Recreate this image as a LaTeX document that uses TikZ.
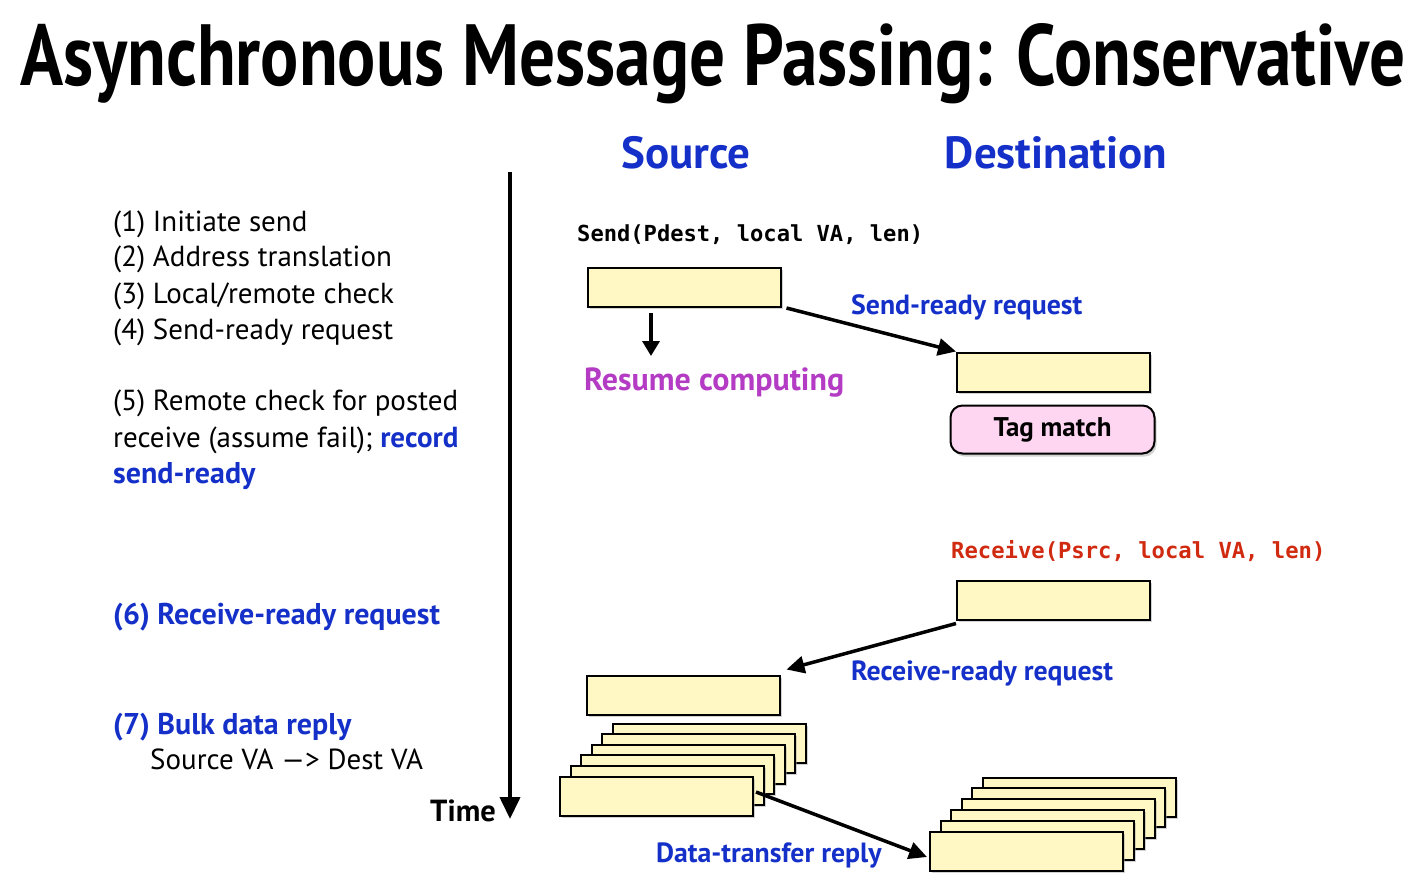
\documentclass[tikz,border=0pt]{standalone}
\usepackage{fontspec}
\usepackage{graphicx}
\setmainfont{PT Sans}
\setsansfont{PT Sans}
\setmonofont{DejaVu Sans Mono}
\usetikzlibrary{arrows.meta,shadows}
\definecolor{tblue}{HTML}{1430C8}
\definecolor{tmag}{HTML}{B43CC4}
\definecolor{tred}{HTML}{D02A10}
\definecolor{boxfill}{HTML}{FFF8C4}
\definecolor{tagfill}{HTML}{FFD6F2}
\tikzset{
  buf/.style={draw=black, line width=2pt, fill=boxfill, minimum width=193pt, minimum height=39pt, inner sep=0pt,
     drop shadow={shadow xshift=2pt, shadow yshift=-2pt, fill=black!35}},
  tagbox/.style={draw=black, line width=2pt, fill=tagfill, rounded corners=12pt, minimum width=204pt, minimum height=48pt, inner sep=0pt,
     drop shadow={shadow xshift=2pt, shadow yshift=-3pt, fill=black!35}, font=\fontsize{27}{32}\selectfont\bfseries},
  conn/.style={line width=3.5pt, -{Triangle[length=18pt, width=17pt]}},
  lefttxt/.style={anchor=base west, inner sep=0pt, font=\fontsize{29}{34}\selectfont},
  leftblue/.style={anchor=base west, inner sep=0pt, text=tblue, font=\fontsize{30}{34}\selectfont\bfseries},
  bluebold/.style={text=tblue, font=\fontsize{27.8}{32}\selectfont\bfseries, inner sep=0pt},
}
\begin{document}
\begin{tikzpicture}[x=1pt, y=-1pt]
\useasboundingbox (0,0) rectangle (1419,881);
% title
\node[anchor=base west, inner sep=0pt] (title) at (20,85) {\resizebox{1385pt}{62pt}{\fontsize{86}{90}\selectfont\bfseries Asynchronous Message Passing: Conservative}};
% column heads
\node[anchor=base, inner sep=0pt, text=tblue, font=\fontsize{45}{50}\selectfont\bfseries] (src) at (686,168) {Source};
\node[anchor=base, inner sep=0pt, text=tblue, font=\fontsize{45}{50}\selectfont\bfseries] (dst) at (1056,168) {Destination};
% timeline
\coordinate (tl0) at (510,172);
\coordinate (tl1) at (510,819);
\draw[line width=4pt, -{Triangle[length=22pt, width=20pt]}] (tl0) -- (tl1);
\node[anchor=base east, inner sep=0pt, font=\fontsize{30.5}{34}\selectfont\bfseries] (time) at (496,821) {Time};
% left list
\node[lefttxt] (s1) at (113,231) {(1) Initiate send};
\node[lefttxt] (s2) at (113,266) {(2) Address translation};
\node[lefttxt] (s3) at (113,303) {(3) Local/remote check};
\node[lefttxt] (s4) at (113,339) {(4) Send-ready request};
\node[lefttxt] (s5a) at (113,410) {(5) Remote check for posted};
\node[lefttxt] (s5b) at (113,447) {receive (assume fail); \textcolor{tblue}{\bfseries record}};
\node[leftblue] (s5c) at (113,483) {send-ready};
\node[leftblue] (s6) at (113,624) {(6) Receive-ready request};
\node[leftblue] (s7) at (113,734) {(7) Bulk data reply};
\node[lefttxt] (s7b) at (150,769) {Source VA —> Dest VA};
% send call
\node[anchor=base west, inner sep=0pt, font=\fontsize{22.1}{26}\selectfont\ttfamily\bfseries] (send) at (577,241) {Send(Pdest, local VA, len)};
\node[buf] (b1) at (684,287.5) {};
\coordinate (r0) at (651,313);
\coordinate (r1) at (651,356);
\draw[line width=3.5pt, -{Triangle[length=15pt, width=17pt]}] (r0) -- (r1);
\node[anchor=base west, inner sep=0pt, text=tmag, font=\fontsize{32}{36}\selectfont\bfseries] (resume) at (584,390) {Resume computing};
% destination side
\node[buf] (b2) at (1053.5,372) {};
\draw[conn] ([xshift=5pt]b1.south east) -- (b2.north west);
\node[bluebold, anchor=base west] (sr) at (851,314) {Send-ready request};
\node[tagbox] (tag) at (1052.5,429.5) {Tag match};
\node[anchor=base west, inner sep=0pt, text=tred, font=\fontsize{22.2}{26}\selectfont\ttfamily\bfseries] (recv) at (951,558) {Receive(Psrc, local VA, len)};
\node[buf] (b3) at (1053.5,600) {};
\node[buf] (b4) at (683,695) {};
\draw[conn] ([yshift=-3pt]b3.south west) -- ([xshift=6pt,yshift=5pt]b4.north east);
\node[bluebold, anchor=base west] (rr) at (851,680) {Receive-ready request};
% source stack
\foreach \k in {5,4,3,2,1} {
  \node[buf] (sa\k) at ({656.5+10.6*\k},{796-10.6*\k}) {};
}
\node[buf] (sa0) at (656.5,796) {};
% destination stack
\foreach \k in {5,4,3,2,1} {
  \node[buf] (da\k) at ({1026.5+10.6*\k},{851-10.8*\k}) {};
}
\node[buf] (da0) at (1026.5,851) {};
\draw[conn] ([xshift=2pt,yshift=4pt]sa0.east) -- ([xshift=-2pt,yshift=-6pt]da0.west);
\node[bluebold, anchor=base west] (dt) at (656,862) {Data-transfer reply};
\end{tikzpicture}
\end{document}
